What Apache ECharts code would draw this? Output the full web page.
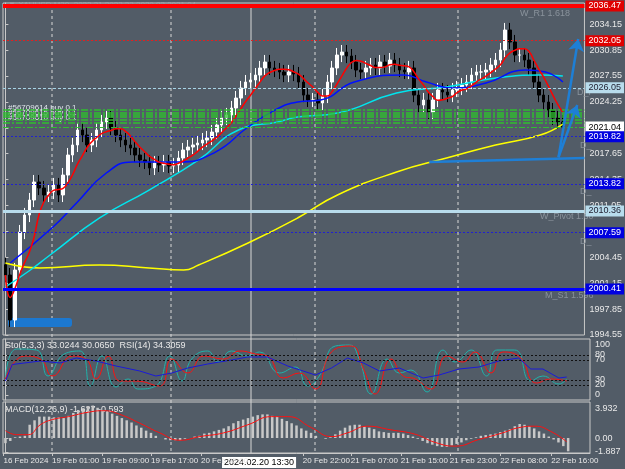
<!DOCTYPE html>
<html>
<head>
<meta charset="utf-8">
<script src="https://cdn.jsdelivr.net/npm/echarts@6/dist/echarts.min.js"></script>
<style>html,body{margin:0;padding:0;background:#525c67}#chart{width:625px;height:469px}</style>
</head>
<body>
<div id="chart"></div>
<script>
// closes, one candle per ~1 hour
const closes = [2002.19,1996.46,2002.83,2007.67,2009.84,2011.75,2014.04,2013.28,2012.39,2012.77,
  2013.66,2012.39,2014.93,2017.48,2018.76,2020.67,2020.03,2018.76,2019.39,2020.67,
  2021.69,2022.2,2020.92,2020.03,2019.39,2018.76,2018.37,2017.48,2016.85,2016.59,
  2015.83,2016.46,2016.21,2016.59,2016.08,2016.21,2017.1,2018.12,2018.5,2018.76,
  2019.01,2019.39,2019.65,2020.41,2021.3,2022.2,2022.58,2023.47,2024.74,2026.02,
  2026.78,2027.04,2027.67,2028.57,2029.33,2028.57,2028.31,2028.06,2027.67,2028.06,
  2027.8,2026.78,2025.12,2024.49,2024.49,2024.11,2025.0,2026.78,2028.57,2030.22,
  2030.6,2030.09,2029.33,2028.31,2028.06,2028.57,2028.95,2028.57,2029.33,2028.82,
  2029.58,2028.95,2028.31,2028.06,2028.57,2025.12,2023.85,2024.49,2022.96,2024.49,
  2025.76,2025.51,2025.12,2025.76,2026.02,2026.4,2026.78,2027.67,2028.06,2028.06,
  2028.31,2028.95,2029.58,2030.86,2033.41,2031.88,2030.22,2030.22,2029.58,2028.57,
  2026.78,2025.12,2024.23,2023.21,2022.2,2021.69,2021.04];
const firstOpen = 2003.5;
const slots = 121;

// moving averages [candle index, price]
const maBlue = [[1,2003.72],[9.9,2008.31],[14.8,2011.37],[21,2015.19],[26.4,2016.59],[36.1,2016.59],
  [43.7,2017.86],[50.5,2021.05],[56.1,2023.21],[60.8,2024.23],[65.6,2024.49],[72.6,2026.78],
  [82.9,2027.67],[87.6,2026.78],[93.2,2026.02],[100,2026.65],[108.2,2028.31],[112.4,2028.06],[116,2026.78]];
const maCyan = [[0,2000.67],[5.2,2002.83],[9.3,2004.74],[19.6,2009.46],[29.9,2013.02],[40.2,2016.85],
  [48.5,2020.67],[56.7,2021.69],[60.8,2022.32],[69.1,2022.83],[81.4,2025.38],[91.8,2026.15],
  [102.1,2027.29],[111.3,2027.67],[116,2027.55]];
const maYellow = [[0,2003.72],[7.2,2003.09],[19.6,2003.47],[29.9,2003.09],[37.1,2002.83],[40.2,2003.47],
  [50.5,2006.27],[60.8,2009.46],[69.1,2012.39],[81.4,2015.32],[91.8,2017.1],[102,2018.76],
  [111.3,2020.03],[116,2021.43]];

const priceTicks = [1994.55,1997.85,2001.15,2004.45,2007.75,2011.05,2014.35,2017.65,2020.95,2024.25,2027.55,2030.85,2034.15];
const greenLevels = [2023.2,2022.83,2022.55,2022.32,2021.94,2021.6];

// stochastic / RSI
const stoK = [[0,32],[2.3,92],[6.4,90],[8.8,38],[12.1,82],[15.4,88],[17.5,18],[19.9,78],[22.8,16],[25.3,32],
  [27.3,12],[31,18],[33.9,78],[36.4,28],[38.4,72],[41.7,88],[43.8,66],[46.6,88],[49.9,78],[52.4,86],
  [56.5,44],[59.8,56],[62.3,18],[64.7,38],[68,98],[70.9,100],[72.9,72],[75.4,2],[78.7,72],[81.2,44],
  [83.6,50],[86.9,6],[90.2,90],[92.7,66],[96,90],[99.2,38],[101.3,90],[105,90],[108.3,28],[110.8,38],
  [114.1,22],[115.7,32]];
const stoD = [[0,32],[3.9,78],[7.2,72],[9.7,38],[13.8,78],[16.6,72],[18.7,32],[21.2,78],[23.6,28],[26.9,28],
  [31.8,18],[34.3,72],[37.6,44],[40.9,78],[45,72],[48.3,88],[51.6,82],[54,78],[57.3,34],[60.6,44],
  [63.9,12],[67.2,86],[71.3,98],[73.8,52],[76.2,2],[79.5,72],[82,38],[84.5,32],[87.7,12],[91,78],
  [94.3,66],[96.8,86],[100.1,44],[102.5,86],[105.8,78],[109.5,24],[112.4,32],[115.7,28]];
const rsi = [[0,28],[1.4,61],[7.2,68],[11.3,64],[14.6,74],[18.7,68],[22.8,58],[27.7,48],[31,38],[34.3,44],
  [37.6,54],[41.7,62],[46.6,70],[49.9,76],[54,76],[58.2,58],[63.9,40],[67.2,54],[70.5,74],[73.8,64],
  [77.1,48],[81.2,54],[86.1,34],[89.4,40],[93.5,52],[97.6,56],[101.7,68],[105.8,74],[108.3,52],
  [110.8,52],[114.1,34],[115.7,36]];

// MACD
const macdHist = [-0.7,-0.4,0.1,0.2,0.3,1.8,2.4,2.9,2.9,2.9,2.8,2.8,2.7,3.0,3.4,3.8,4.0,4.3,4.4,4.1,
  3.8,3.6,3.3,3.0,2.7,2.4,2.1,1.7,1.4,1.0,0.7,0.3,0.0,-0.2,-0.3,-0.3,-0.3,-0.1,0.0,0.2,
  0.3,0.6,0.7,0.9,1.1,1.3,1.6,2.0,2.3,2.5,2.7,2.9,3.1,3.2,3.2,3.0,2.9,2.6,2.3,2.0,
  1.7,1.3,1.0,0.7,0.3,0.0,-0.1,0.1,0.5,1.0,1.4,1.7,1.8,1.8,1.6,1.4,1.2,0.9,0.8,0.7,
  0.7,0.7,0.6,0.4,0.2,-0.1,-0.4,-0.7,-0.9,-1.1,-1.2,-1.2,-1.0,-0.8,-0.6,-0.3,-0.1,0.1,0.3,0.4,
  0.5,0.6,0.8,1.0,1.2,1.6,1.9,1.8,1.6,1.3,0.9,0.6,0.2,-0.2,-0.6,-1.1,-1.8];
const macdSignal = [[0,1.0],[2.3,0.45],[4.7,0.45],[7.2,1.8],[9.7,2.5],[13,2.9],[17.1,3.5],[20.3,3.7],
  [23.6,3.2],[27.7,2.0],[31.8,0.7],[36,-0.3],[40.1,0.2],[45,0.7],[50,1.8],[54.9,2.9],[58.2,2.9],
  [63.1,1.4],[67.2,0.2],[70.5,0.7],[74.6,1.6],[79.5,1.1],[84.5,0.5],[88.6,-0.6],[92.7,-1.1],
  [97.6,-0.2],[102.5,0.7],[105.8,1.4],[109.1,1.6],[112.4,0.9],[115.7,-0.5]];

const timeTickIdx = [-0.4,9.6,19.9,30,40.3,61.3,71.2,81.5,91.6,102,112.5];
const timeTickLabels = ['16 Feb 2024','19 Feb 01:00','19 Feb 09:00','19 Feb 17:00','20 Feb 05:00',
  '20 Feb 22:00','21 Feb 07:00','21 Feb 15:00','21 Feb 23:00','22 Feb 08:00','22 Feb 16:00'];

const candles = closes.map((c, i) => {
  const o = i === 0 ? firstOpen : closes[i - 1];
  return [o, c, Math.min(o, c) - 0.9, Math.max(o, c) + 0.9];
});
const redMA = closes.map((c, i) => {
  const s = closes.slice(Math.max(0, i - 5), i + 1);
  return [i, s.reduce((a, b) => a + b, 0) / s.length];
});
const cats = Array.from({length: slots}, (_, i) => i);

const fg = '#e8e8e8';
const font = 'Liberation Sans, Arial, sans-serif';
function hline(y, color, width, type, box, boxColor, boxText) {
  const d = {yAxis: y, lineStyle: {color, width, type}, label: {show: false}};
  if (box) d.label = {show: true, position: 'end', formatter: y.toFixed(2), color: boxText || '#fff',
    backgroundColor: boxColor, padding: [1, 3], fontSize: 9, fontFamily: font, distance: 1};
  return d;
}
const grayText = (x, y, t) => ({type: 'text', left: x, top: y, style: {text: t, fill: '#8a939c', font: '9px ' + font}});
const vline = (x, y1, dash) => ({type: 'line', shape: {x1: x, y1, x2: x, y2: 453},
  style: {stroke: '#d8d8d8', lineDash: dash ? [3, 3] : null, lineWidth: 1}});

const chart = echarts.init(document.getElementById('chart'));
chart.setOption({
  backgroundColor: '#525c67',
  animation: false,
  grid: [
    {left: 3, right: 35, top: 3, height: 332, show: true, borderColor: '#c8c8c8', backgroundColor: 'transparent'},
    {left: 3, right: 35, top: 339, height: 61, show: true, borderColor: '#c8c8c8'},
    {left: 3, right: 35, top: 402, height: 51, show: true, borderColor: '#c8c8c8'}
  ],
  xAxis: [
    {type: 'category', gridIndex: 0, data: cats, show: false},
    {type: 'value', gridIndex: 0, min: -0.5, max: slots - 0.5, show: false},
    {type: 'value', gridIndex: 1, min: -0.5, max: slots - 0.5, show: false},
    {type: 'category', gridIndex: 2, position: 'top', data: cats, show: false},
    {type: 'value', gridIndex: 2, position: 'bottom', min: -0.5, max: slots - 0.5, splitLine: {show: false},
      axisLine: {show: true, lineStyle: {color: '#c8c8c8'}},
      axisTick: {show: true, length: 3, customValues: timeTickIdx, lineStyle: {color: '#c8c8c8'}},
      axisLabel: {customValues: timeTickIdx, hideOverlap: false, showMinLabel: true, showMaxLabel: true,
        formatter: v => timeTickLabels[timeTickIdx.indexOf(v)] || '',
        color: fg, fontSize: 8, fontFamily: font, align: 'left', margin: 4}}
  ],
  yAxis: [
    {type: 'value', gridIndex: 0, position: 'right', min: 1994.55, max: 2036.85, splitLine: {show: false},
      axisLine: {show: true, lineStyle: {color: '#c8c8c8'}},
      axisTick: {show: true, length: 3, customValues: priceTicks},
      axisLabel: {color: fg, fontSize: 9, fontFamily: font, margin: 5, customValues: priceTicks, formatter: v => v.toFixed(2)}},
    {type: 'value', gridIndex: 1, position: 'right', min: -10, max: 112, splitLine: {show: false},
      axisLine: {show: true, lineStyle: {color: '#c8c8c8'}},
      axisTick: {show: true, length: 3, customValues: [0, 20, 30, 70, 80, 100]},
      axisLabel: {color: fg, fontSize: 9, fontFamily: font, margin: 5, customValues: [0, 20, 30, 70, 80, 100]}},
    {type: 'value', gridIndex: 2, position: 'right', min: -2.03, max: 4.88, splitLine: {show: false},
      axisLine: {show: true, lineStyle: {color: '#c8c8c8'}},
      axisTick: {show: true, length: 3, customValues: [-1.887, 0, 3.932]},
      axisLabel: {color: fg, fontSize: 9, fontFamily: font, margin: 5, customValues: [-1.887, 0, 3.932],
        formatter: v => v === 0 ? '0.00' : v.toFixed(3)}}
  ],
  series: [
    {type: 'candlestick', xAxisIndex: 0, yAxisIndex: 0, data: candles, barWidth: 3,
      itemStyle: {color: '#ffffff', color0: '#000000', borderColor: '#ffffff', borderColor0: '#000000', borderWidth: 1},
      markLine: {symbol: 'none', silent: true, animation: false, data: [
        hline(2036.47, '#ff0000', 4, 'solid', true, '#e00000'),
        hline(2032.05, '#e02020', 1, [2, 2], true, '#e00000'),
        hline(2026.05, '#a8d4e6', 1, [3, 2], true, '#b8dcec', '#223'),
        ...greenLevels.map(v => hline(v, '#2fbf2f', 1.5, [7, 2, 2, 2])),
        hline(2021.04, '#2fbf2f', 1, [6, 2, 2, 2], true, '#ffffff', '#000'),
        hline(2019.82, '#2020d0', 1, [2, 2], true, '#0000e0'),
        hline(2013.82, '#2020d0', 1, [2, 2], true, '#0000e0'),
        hline(2010.36, '#b8dcec', 3, 'solid', true, '#b8dcec', '#223'),
        hline(2007.59, '#2020d0', 1, [2, 2], true, '#0000e0'),
        hline(2000.41, '#0000ff', 3, 'solid', true, '#0000e0')
      ]}},
    {type: 'line', xAxisIndex: 1, yAxisIndex: 0, data: maYellow, smooth: true, showSymbol: false, lineStyle: {color: '#ffff00', width: 1.5}},
    {type: 'line', xAxisIndex: 1, yAxisIndex: 0, data: maCyan, smooth: true, showSymbol: false, lineStyle: {color: '#00e5ee', width: 1.5}},
    {type: 'line', xAxisIndex: 1, yAxisIndex: 0, data: maBlue, smooth: true, showSymbol: false, lineStyle: {color: '#0010ff', width: 1.5}},
    {type: 'line', xAxisIndex: 1, yAxisIndex: 0, data: redMA, smooth: true, showSymbol: false, lineStyle: {color: '#ff0000', width: 1.5},
      markLine: {silent: true, animation: false, symbol: ['none', 'arrow'], symbolSize: 12,
        lineStyle: {color: '#1e7fd6', width: 2.5, type: 'solid'}, label: {show: false}, data: [
          [{coord: [115.1, 2017.2]}, {coord: [119.2, 2032.26]}],
          [{coord: [115.1, 2017.2]}, {coord: [119, 2023.85]}],
          [{coord: [88.2, 2016.59], symbol: 'none'}, {coord: [120.5, 2017.1], symbol: 'none'}]
        ]}},
    {type: 'line', xAxisIndex: 2, yAxisIndex: 1, data: stoK, smooth: true, showSymbol: false, lineStyle: {color: '#20b2aa', width: 1},
      markLine: {silent: true, symbol: 'none', label: {show: false}, lineStyle: {color: '#111', type: [2, 2], width: 1},
        data: [{yAxis: 20}, {yAxis: 30}, {yAxis: 70}, {yAxis: 80}]}},
    {type: 'line', xAxisIndex: 2, yAxisIndex: 1, data: stoD, smooth: true, showSymbol: false, lineStyle: {color: '#ff1010', width: 1}},
    {type: 'line', xAxisIndex: 2, yAxisIndex: 1, data: rsi, smooth: false, showSymbol: false, lineStyle: {color: '#1a1ad8', width: 1}},
    {type: 'bar', xAxisIndex: 3, yAxisIndex: 2, data: macdHist, barWidth: 2.5, itemStyle: {color: '#c8c8c8'}},
    {type: 'line', xAxisIndex: 4, yAxisIndex: 2, data: macdSignal, smooth: true, showSymbol: false, lineStyle: {color: '#ff1010', width: 1}}
  ],
  graphic: [
    {type: 'group', silent: true, children: [
      vline(52, 4, true), vline(171, 4, true), vline(315, 4, true), vline(458, 4, true), vline(251, 4, false)
    ]},
    {type: 'text', left: 8, top: 1, style: {text: '\u25BC XAUUSD,M30  2022.31 2022.32 2020.83 2021.04', fill: '#9aa3ab', font: '8px ' + font}},
    {type: 'text', left: 8, top: 104, style: {text: '#56709614 buy 0.1\n#56709615 buy 0.1\n#56709616 buy 0.1', fill: '#dfe6ea', font: '8px ' + font, lineHeight: 5}},
    {type: 'rect', shape: {x: 8, y: 318, width: 64, height: 9, r: 3}, style: {fill: '#1c78d0'}},
    grayText(520, 9, 'W_R1 1.618'),
    grayText(577, 88, 'D_P'),
    grayText(580, 141, 'D_'),
    grayText(580, 187, 'D_'),
    grayText(540, 212, 'W_Pivot 1.60'),
    grayText(580, 237, 'D_'),
    grayText(545, 291, 'M_S1 1.596'),
    {type: 'text', left: 5, top: 341, style: {text: 'Sto(5,3,3) 33.0244 30.0650  RSI(14) 34.3059', fill: '#e8e8e8', font: '9px ' + font}},
    {type: 'text', left: 5, top: 405, style: {text: 'MACD(12,26,9) -1.627 -0.593', fill: '#e8e8e8', font: '9px ' + font}},
    {type: 'text', left: 222, top: 457, style: {text: '2024.02.20 13:30', fill: '#000', backgroundColor: '#ffffff', padding: [1, 2], font: '9px ' + font}}
  ]
});
</script>
</body>
</html>
